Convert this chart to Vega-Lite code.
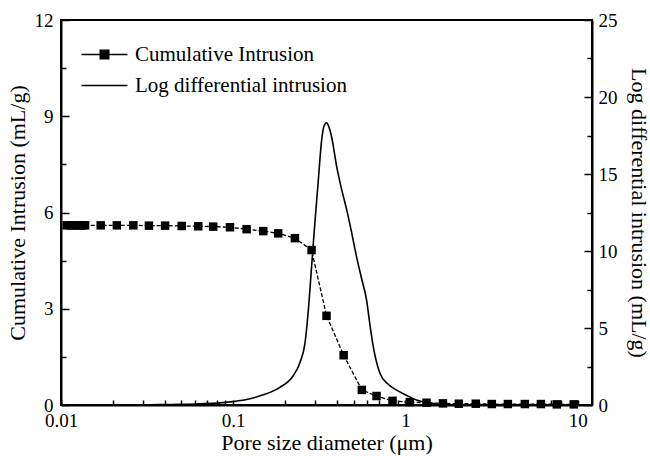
{
  "$schema": "https://vega.github.io/schema/vega-lite/v6.json",
  "width": 531,
  "height": 385,
  "autosize": {"type": "none"},
  "padding": {"left": 61, "top": 20, "right": 58, "bottom": 51},
  "background": "white",
  "config": {
    "font": "Liberation Serif",
    "view": {"stroke": "black", "strokeWidth": 2},
    "legend": {"labelFont": "Liberation Serif"},
    "axis": {
      "grid": false,
      "domainColor": "black",
      "domainWidth": 2,
      "tickColor": "black",
      "tickWidth": 1.5,
      "labelColor": "black",
      "labelFont": "Liberation Serif",
      "labelFontSize": 19,
      "titleFont": "Liberation Serif",
      "titleFontSize": 22,
      "titleFontWeight": "normal",
      "titleColor": "black"
    }
  },
  "data": {
    "values": [
      {"s": "Cumulative Intrusion", "d": 0.0108, "v": 5.6},
      {"s": "Cumulative Intrusion", "d": 0.0113, "v": 5.6},
      {"s": "Cumulative Intrusion", "d": 0.0118, "v": 5.6},
      {"s": "Cumulative Intrusion", "d": 0.0123, "v": 5.6},
      {"s": "Cumulative Intrusion", "d": 0.0128, "v": 5.6},
      {"s": "Cumulative Intrusion", "d": 0.0133, "v": 5.6},
      {"s": "Cumulative Intrusion", "d": 0.0138, "v": 5.6},
      {"s": "Cumulative Intrusion", "d": 0.0170, "v": 5.6},
      {"s": "Cumulative Intrusion", "d": 0.0211, "v": 5.6},
      {"s": "Cumulative Intrusion", "d": 0.0263, "v": 5.6},
      {"s": "Cumulative Intrusion", "d": 0.0324, "v": 5.59},
      {"s": "Cumulative Intrusion", "d": 0.0402, "v": 5.59},
      {"s": "Cumulative Intrusion", "d": 0.0502, "v": 5.58},
      {"s": "Cumulative Intrusion", "d": 0.0626, "v": 5.57},
      {"s": "Cumulative Intrusion", "d": 0.0765, "v": 5.56},
      {"s": "Cumulative Intrusion", "d": 0.0957, "v": 5.54},
      {"s": "Cumulative Intrusion", "d": 0.1196, "v": 5.48},
      {"s": "Cumulative Intrusion", "d": 0.1493, "v": 5.42},
      {"s": "Cumulative Intrusion", "d": 0.1824, "v": 5.35},
      {"s": "Cumulative Intrusion", "d": 0.2281, "v": 5.2},
      {"s": "Cumulative Intrusion", "d": 0.285, "v": 4.83},
      {"s": "Cumulative Intrusion", "d": 0.348, "v": 2.78},
      {"s": "Cumulative Intrusion", "d": 0.4375, "v": 1.55},
      {"s": "Cumulative Intrusion", "d": 0.558, "v": 0.47},
      {"s": "Cumulative Intrusion", "d": 0.679, "v": 0.28},
      {"s": "Cumulative Intrusion", "d": 0.841, "v": 0.13},
      {"s": "Cumulative Intrusion", "d": 1.06, "v": 0.09},
      {"s": "Cumulative Intrusion", "d": 1.325, "v": 0.07},
      {"s": "Cumulative Intrusion", "d": 1.65, "v": 0.05},
      {"s": "Cumulative Intrusion", "d": 2.04, "v": 0.04},
      {"s": "Cumulative Intrusion", "d": 2.56, "v": 0.04},
      {"s": "Cumulative Intrusion", "d": 3.17, "v": 0.03},
      {"s": "Cumulative Intrusion", "d": 3.93, "v": 0.03},
      {"s": "Cumulative Intrusion", "d": 4.93, "v": 0.03},
      {"s": "Cumulative Intrusion", "d": 6.11, "v": 0.03},
      {"s": "Cumulative Intrusion", "d": 7.56, "v": 0.02},
      {"s": "Cumulative Intrusion", "d": 9.49, "v": 0.02},
      {"s": "Log differential intrusion", "d": 0.01, "v": 0},
      {"s": "Log differential intrusion", "d": 0.02, "v": 0},
      {"s": "Log differential intrusion", "d": 0.0329, "v": 0.02},
      {"s": "Log differential intrusion", "d": 0.0491, "v": 0.04},
      {"s": "Log differential intrusion", "d": 0.0641, "v": 0.08},
      {"s": "Log differential intrusion", "d": 0.0837, "v": 0.14},
      {"s": "Log differential intrusion", "d": 0.1, "v": 0.22},
      {"s": "Log differential intrusion", "d": 0.125, "v": 0.4},
      {"s": "Log differential intrusion", "d": 0.1493, "v": 0.66},
      {"s": "Log differential intrusion", "d": 0.1866, "v": 1.15},
      {"s": "Log differential intrusion", "d": 0.2229, "v": 1.9},
      {"s": "Log differential intrusion", "d": 0.2438, "v": 2.75},
      {"s": "Log differential intrusion", "d": 0.2608, "v": 4.0},
      {"s": "Log differential intrusion", "d": 0.2726, "v": 6.1},
      {"s": "Log differential intrusion", "d": 0.2851, "v": 9.0},
      {"s": "Log differential intrusion", "d": 0.2981, "v": 11.9},
      {"s": "Log differential intrusion", "d": 0.3113, "v": 14.5},
      {"s": "Log differential intrusion", "d": 0.326, "v": 17.2},
      {"s": "Log differential intrusion", "d": 0.3361, "v": 18.1},
      {"s": "Log differential intrusion", "d": 0.3485, "v": 18.33},
      {"s": "Log differential intrusion", "d": 0.3593, "v": 18.05},
      {"s": "Log differential intrusion", "d": 0.3725, "v": 17.4},
      {"s": "Log differential intrusion", "d": 0.3983, "v": 15.5},
      {"s": "Log differential intrusion", "d": 0.4258, "v": 14.0},
      {"s": "Log differential intrusion", "d": 0.4552, "v": 12.7},
      {"s": "Log differential intrusion", "d": 0.4867, "v": 11.2},
      {"s": "Log differential intrusion", "d": 0.5204, "v": 9.6},
      {"s": "Log differential intrusion", "d": 0.5563, "v": 8.2},
      {"s": "Log differential intrusion", "d": 0.5948, "v": 6.8},
      {"s": "Log differential intrusion", "d": 0.6217, "v": 5.2},
      {"s": "Log differential intrusion", "d": 0.6496, "v": 3.8},
      {"s": "Log differential intrusion", "d": 0.7103, "v": 2.06},
      {"s": "Log differential intrusion", "d": 0.7906, "v": 1.36},
      {"s": "Log differential intrusion", "d": 0.888, "v": 0.97},
      {"s": "Log differential intrusion", "d": 1.005, "v": 0.65},
      {"s": "Log differential intrusion", "d": 1.16, "v": 0.32},
      {"s": "Log differential intrusion", "d": 1.313, "v": 0.16},
      {"s": "Log differential intrusion", "d": 1.515, "v": 0.06},
      {"s": "Log differential intrusion", "d": 1.81, "v": 0.02},
      {"s": "Log differential intrusion", "d": 2.36, "v": 0},
      {"s": "Log differential intrusion", "d": 10, "v": 0}
    ]
  },
  "encoding": {
    "x": {
      "field": "d",
      "type": "quantitative",
      "scale": {"type": "log", "domain": [0.01, 12.1], "nice": false},
      "axis": {
        "title": "Pore size diameter (μm)",
        "values": [0.01, 0.02, 0.03, 0.04, 0.05, 0.06, 0.07, 0.08, 0.09, 0.1, 0.2, 0.3, 0.4, 0.5, 0.6, 0.7, 0.8, 0.9, 1, 2, 3, 4, 5, 6, 7, 8, 9, 10],
        "labelExpr": "datum.value == 0.01 || datum.value == 0.1 || datum.value == 1 || datum.value == 10 ? format(datum.value, '~g') : ''",
        "tickSize": -5,
        "labelPadding": 11,
        "labelFlush": false,
        "titlePadding": 2
      }
    },
    "color": {
      "field": "s",
      "type": "nominal",
      "scale": {"domain": ["Cumulative Intrusion", "Log differential intrusion"], "range": ["black", "black"]},
      "legend": {
        "title": null,
        "orient": "none",
        "legendX": 33,
        "legendY": 24,
        "padding": 0,
        "labelFont": "Liberation Serif",
        "labelFontSize": 21,
        "labelColor": "black",
        "labelLimit": 0,
        "symbolSize": 100,
        "labelOffset": 20,
        "rowPadding": 9,
        "encode": {
          "symbols": {
            "update": {
              "shape": {"signal": "datum.value === 'Cumulative Intrusion' ? 'M-4.6,0H4.6M-0.85,-0.85H0.85V0.85H-0.85Z' : 'M-4.6,0H4.6'"},
              "fill": {"value": "black"},
              "stroke": {"value": "black"},
              "strokeWidth": {"value": 1.5},
              "strokeDash": {"value": []},
              "opacity": {"value": 1}
            }
          }
        }
      }
    }
  },
  "layer": [
    {
      "transform": [{"filter": "datum.s === 'Cumulative Intrusion'"}],
      "encoding": {
        "y": {
          "field": "v",
          "type": "quantitative",
          "scale": {"domain": [0, 12], "nice": false},
          "axis": {
            "orient": "left",
            "title": "Cumulative Intrusion (mL/g)",
            "values": [0, 1.5, 3, 4.5, 6, 7.5, 9, 10.5, 12],
            "labelExpr": "datum.value % 3 === 0 ? format(datum.value, 'd') : ''",
            "tickSize": {"condition": {"test": "datum.value % 3 === 0", "value": -8}, "value": -5},
            "labelPadding": 16,
            "titlePadding": 5
          }
        }
      },
      "layer": [
        {"mark": {"type": "line", "strokeWidth": 1.3, "strokeDash": [4, 2]}},
        {"mark": {"type": "point", "shape": "square", "filled": true, "size": 72, "color": "black", "opacity": 1}}
      ]
    },
    {
      "transform": [{"filter": "datum.s === 'Log differential intrusion'"}],
      "mark": {"type": "line", "strokeWidth": 1.6, "interpolate": "monotone"},
      "encoding": {
        "y": {
          "field": "v",
          "type": "quantitative",
          "scale": {"domain": [0, 25], "nice": false},
          "axis": {
            "orient": "right",
            "title": "Log differential intrusion (mL/g)",
            "values": [0, 2.5, 5, 7.5, 10, 12.5, 15, 17.5, 20, 22.5, 25],
            "labelExpr": "datum.value % 5 === 0 ? format(datum.value, 'd') : ''",
            "tickSize": {"condition": {"test": "datum.value % 5 === 0", "value": -8}, "value": -5},
            "labelPadding": 14,
            "titlePadding": 9
          }
        }
      }
    }
  ],
  "resolve": {"scale": {"y": "independent"}, "axis": {"y": "independent"}}
}
